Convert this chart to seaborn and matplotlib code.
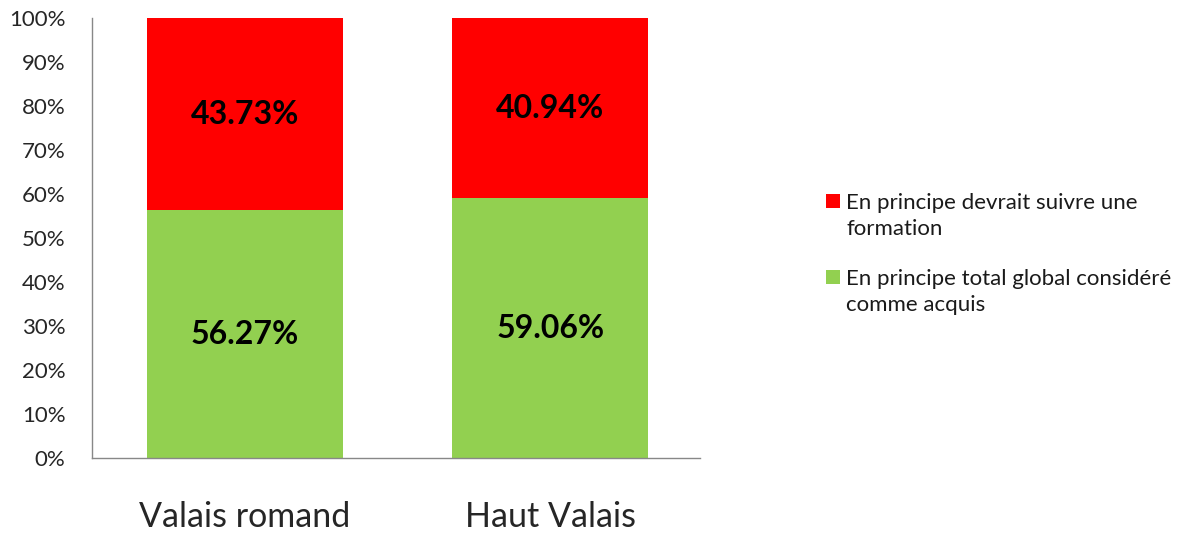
import matplotlib
matplotlib.use("Agg")
import matplotlib.pyplot as plt
import seaborn as sns
import pandas as pd
import numpy as np
from matplotlib.patches import Rectangle

categories = ["Valais romand", "Haut Valais"]
acquis = [56.27, 59.06]
formation = [43.73, 40.94]
label_acquis = "En principe total global considéré\ncomme acquis"
label_formation = "En principe devrait suivre une\nformation"

sns.set_theme(style="white")
plt.rcParams['font.family'] = ['Lato', 'DejaVu Sans']

green = "#92D050"
red = "#FF0000"

fig = plt.figure(figsize=(11.85, 5.36), dpi=100)
ax = fig.add_axes([0.0776, 0.1455, 0.5131, 0.8209])

df = pd.DataFrame({"cat": categories, "acquis": acquis, "formation": formation})
df["total"] = df["acquis"] + df["formation"]

sns.barplot(data=df, x="cat", y="total", color=red, width=0.643, ax=ax,
            saturation=1, linewidth=0)
sns.barplot(data=df, x="cat", y="acquis", color=green, width=0.643, ax=ax,
            saturation=1, linewidth=0)

for i, (a, f) in enumerate(zip(acquis, formation)):
    ax.text(i, a / 2, f"{a:.2f}%", ha="center", va="center",
            fontsize=23, fontweight="bold", color="black")
    ax.text(i, a + f / 2, f"{f:.2f}%", ha="center", va="center",
            fontsize=23, fontweight="bold", color="black")

ax.set_xlim(-0.502, 1.491)
ax.set_ylim(0, 100)
ax.set_yticks(np.arange(0, 101, 10))
ax.set_yticklabels([f"{v}%" for v in range(0, 101, 10)], fontsize=16)
ax.tick_params(axis="x", labelsize=24.5, length=0, pad=31)
ax.tick_params(axis="y", length=0, pad=19)
ax.set_xlabel("")
ax.set_ylabel("")
for s in ["top", "right"]:
    ax.spines[s].set_visible(False)
for s in ["left", "bottom"]:
    ax.spines[s].set_color("#888888")
    ax.spines[s].set_linewidth(1)
ax.grid(False)

# legend (manual layout to match first-line aligned markers)
sq_w, sq_h = 14 / 1185, 14 / 536
for color, label, sq_bottom, text_center in [
    (red, label_formation, 0.612, 0.597),
    (green, label_acquis, 0.470, 0.455),
]:
    fig.patches.append(Rectangle((0.697, sq_bottom), sq_w, sq_h,
                                 facecolor=color, edgecolor="none",
                                 transform=fig.transFigure, figure=fig))
    fig.text(0.714, text_center, label, ha="left", va="center",
             fontsize=16, linespacing=1.35, color="#1a1a1a")

fig.savefig("out.png", dpi=100)
